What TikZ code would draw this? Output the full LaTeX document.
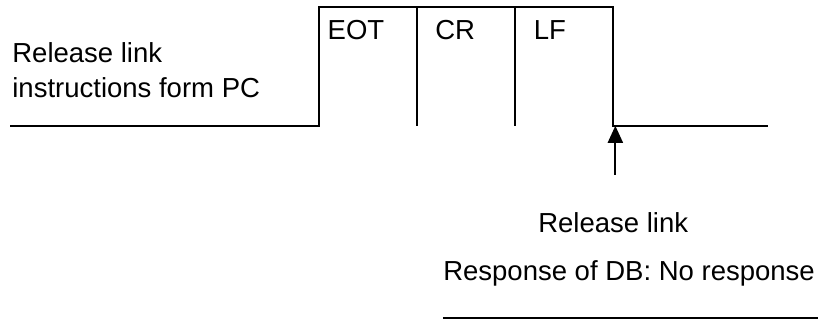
\documentclass[tikz,border=0pt]{standalone}
\usepackage{fontspec}
\setmainfont{Liberation Sans}
\usetikzlibrary{arrows.meta}
\tikzset{
  sig/.style={line width=1pt},
  lbl/.style={inner sep=0pt, anchor=base west,
              font=\fontsize{13.75}{17.5}\selectfont},
}

\begin{document}
\begin{tikzpicture}[>={Triangle[width=7.5pt,length=8.5pt]}]
    \useasboundingbox (0,0) rectangle (14.37,5.62);
    % link signal
    \coordinate (s0) at (0.18,3.41);
    \coordinate (up) at (5.61,3.41);
    \coordinate (dn) at (10.77,3.41);
    \coordinate (s1) at (13.50,3.41);
    \draw[sig] (s0) -- (up) -- (5.61,5.50) -- (10.77,5.50) -- (dn) -- (s1);
    \draw[sig] (7.33,5.50) -- (7.33,3.41);
    \draw[sig] (9.05,5.50) -- (9.05,3.41);
    % characters
    \node[lbl, align=left] (pc) at (0.21,3.91) {Release link\\instructions form PC};
    \node[lbl] (eot) at (5.75,4.92) {EOT};
    \node[lbl] (cr) at (7.64,4.92) {CR};
    \node[lbl] (lf) at (9.37,4.92) {LF};
    % release point
    \coordinate (rel) at (10.81,2.55);
    \draw[sig, ->] (rel) -- (rel |- dn);
    \node[lbl] (rl) at (9.45,1.53) {Release link};
    \node[lbl] (resp) at (7.78,0.69) {Response of DB: No response};
    \draw[sig] (7.78,0.04) -- (14.37,0.04);
\end{tikzpicture}
\end{document}
